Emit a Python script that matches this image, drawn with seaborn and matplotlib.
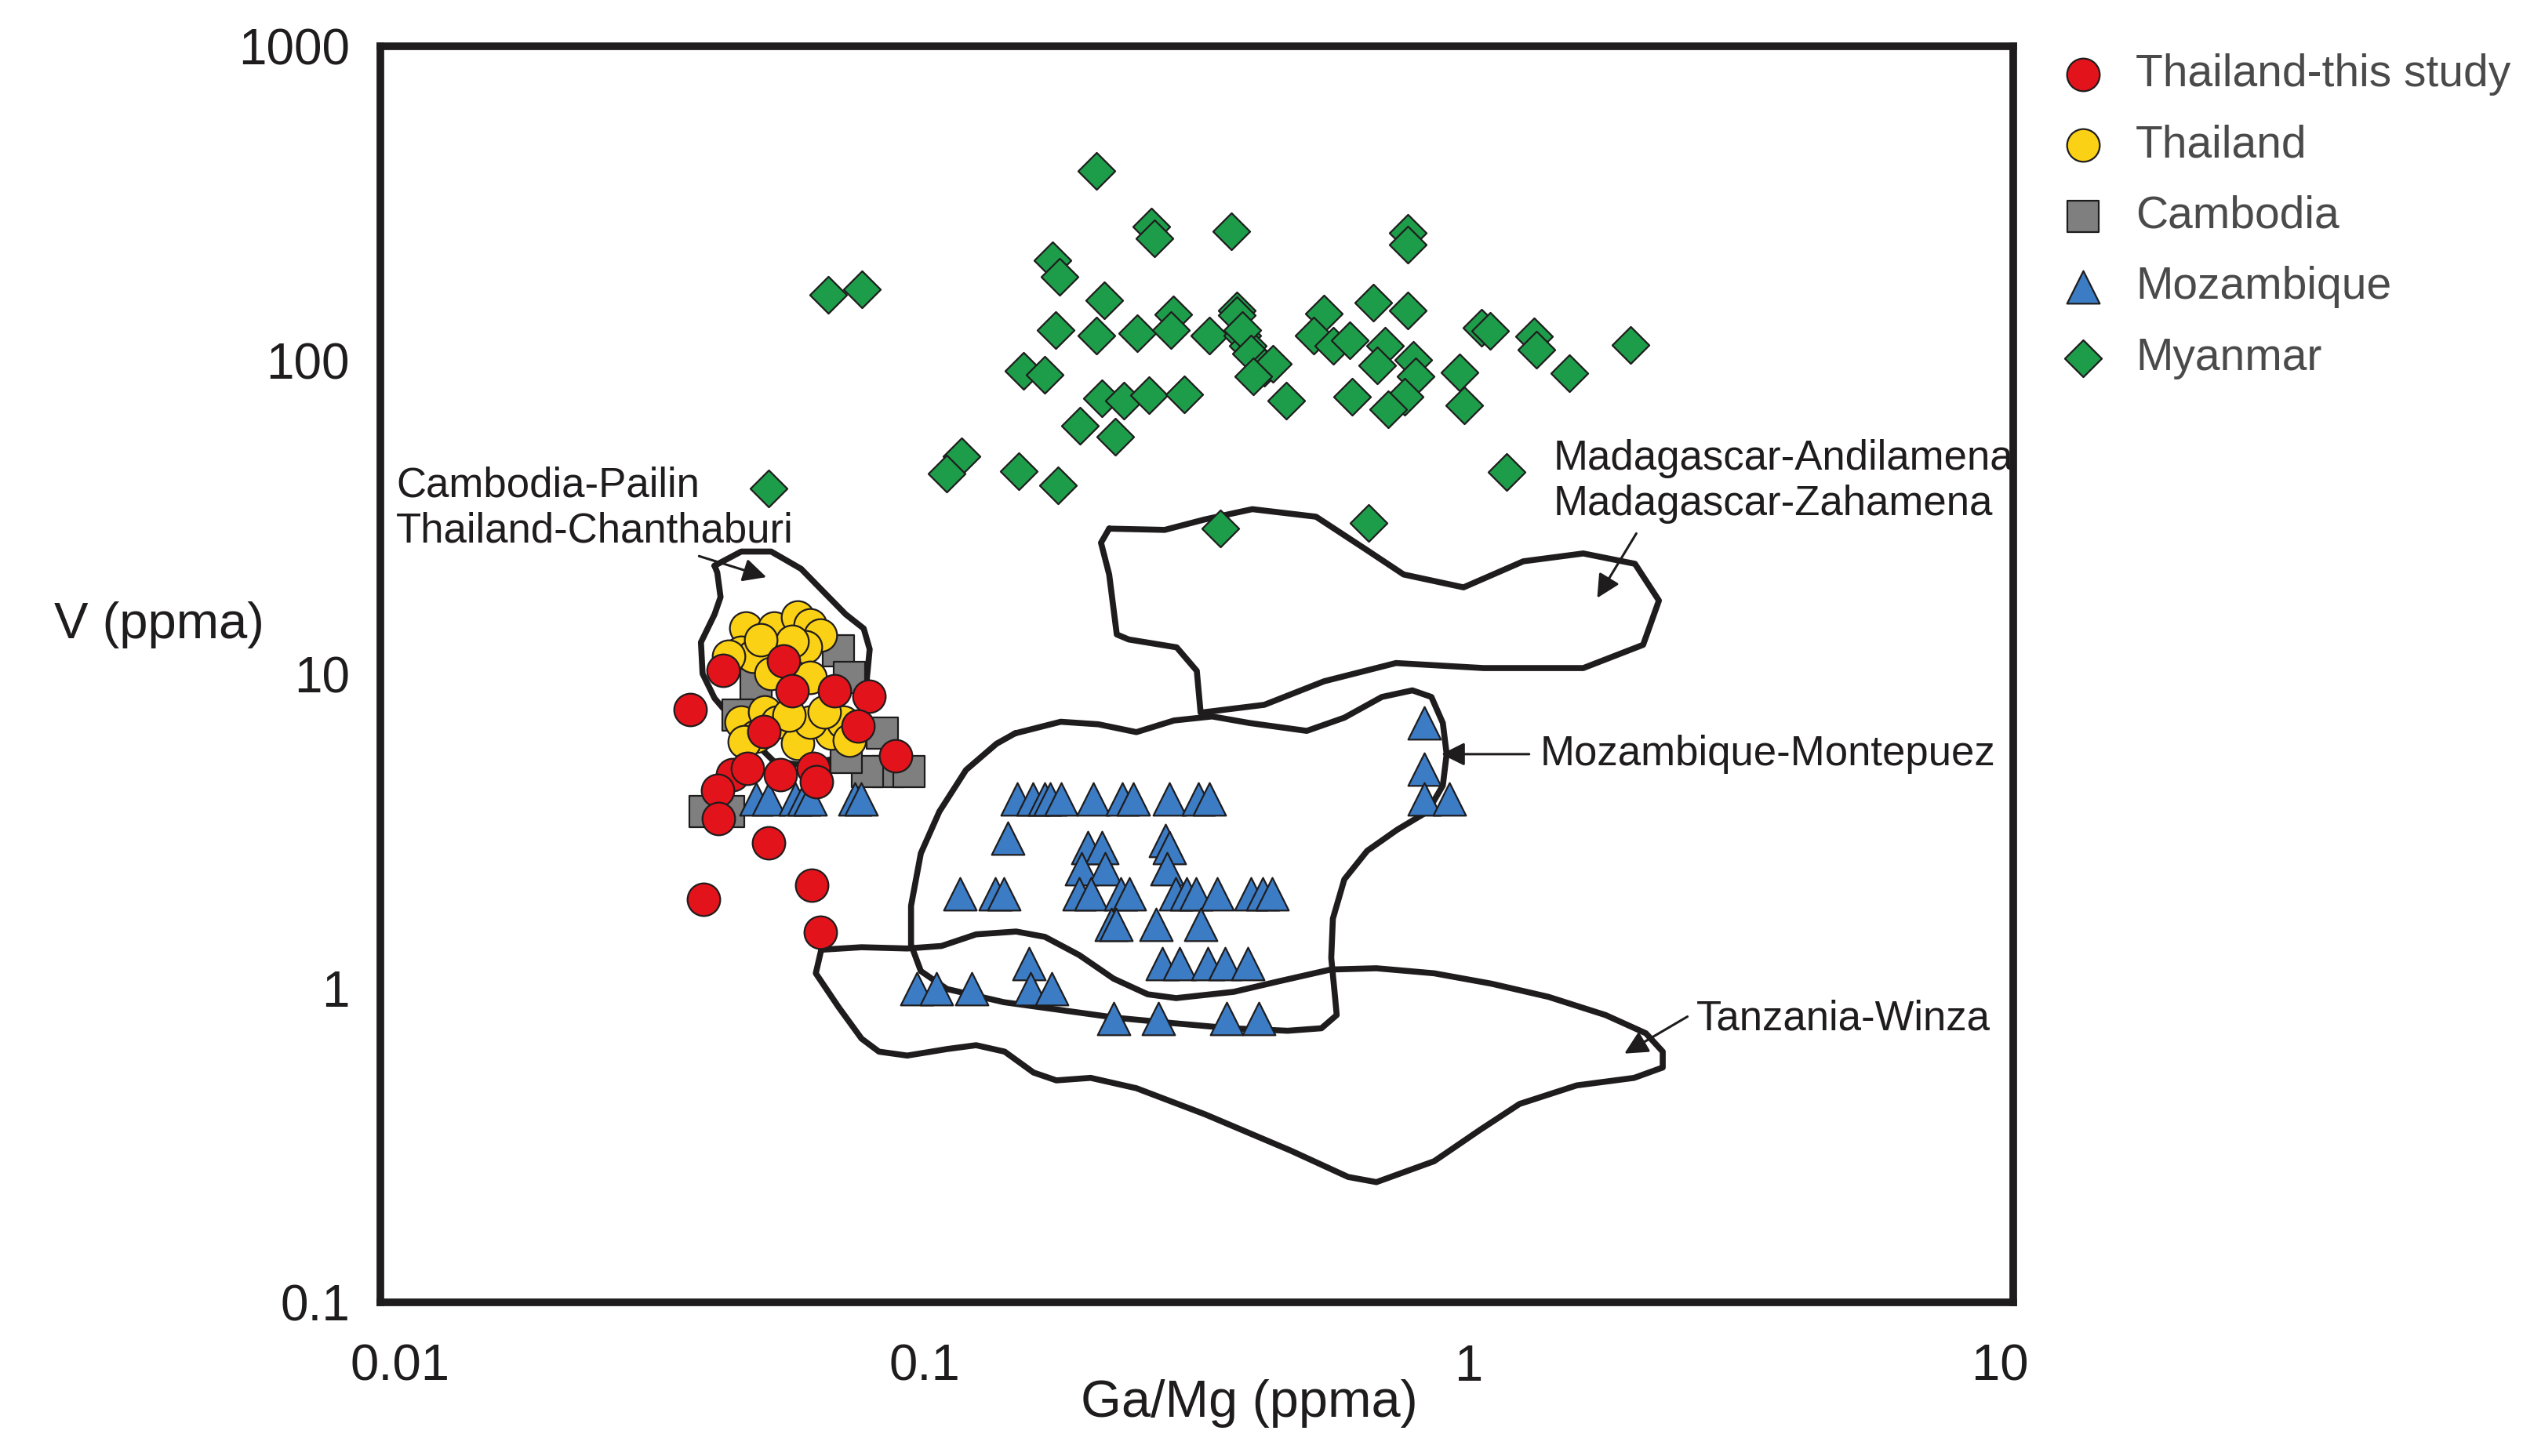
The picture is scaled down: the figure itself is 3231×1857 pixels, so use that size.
import numpy as np
import pandas as pd
import matplotlib
matplotlib.use('Agg')
import matplotlib.pyplot as plt
import matplotlib.transforms as mtransforms
from matplotlib.ticker import NullLocator
import seaborn as sns

# ---- points: Ga/Mg (ppma) vs V (ppma) ----
red_x = [0.0426, 0.0550, 0.0571, 0.0682, 0.0789, 0.0371, 0.0506, 0.0755, 0.0885, 0.0443,
         0.0472, 0.0543, 0.0624, 0.0632, 0.0416, 0.0418, 0.0516, 0.0620, 0.0393, 0.0644]
red_y = [10.3, 11.0, 8.85, 8.85, 8.52, 7.72, 6.59, 6.85, 5.51, 4.78,
         5.03, 4.78, 5.03, 4.54, 4.26, 3.47, 2.90, 2.13, 1.92, 1.51]

yellow_x = [0.0469, 0.0529, 0.0585, 0.0616, 0.0644, 0.0604, 0.0460, 0.0484, 0.0437, 0.0522,
            0.0616, 0.0571, 0.0500, 0.0460, 0.0509, 0.0536, 0.0490, 0.0585, 0.0673, 0.0708,
            0.0727, 0.0616, 0.0466, 0.0564, 0.0655]
yellow_y = [14.05, 14.05, 15.2, 14.4, 13.35, 12.2, 11.75, 11.4, 11.4, 10.06,
            9.8, 12.7, 12.9, 7.03, 7.59, 7.03, 6.34, 6.02, 6.51, 7.03,
            6.18, 7.03, 6.10, 7.40, 7.6]

cambodia_x = [0.0695, 0.0727, 0.0490, 0.0835, 0.0857, 0.0937, 0.0395, 0.0437, 0.0454, 0.0784, 0.0718]
cambodia_y = [11.9, 9.8, 9.32, 6.51, 4.90, 4.90, 3.65, 3.65, 7.40, 4.90, 5.44]

mozambique_x = [0.0490, 0.0516, 0.0578, 0.0600, 0.0616, 0.0745, 0.0764,
                0.148, 0.158, 0.166, 0.170, 0.178, 0.204, 0.231, 0.242, 0.282, 0.318, 0.334,
                0.142, 0.1995, 0.212, 0.277, 0.282, 0.194, 0.2145, 0.279,
                0.116, 0.135, 0.140, 0.192, 0.202, 0.229, 0.238, 0.289, 0.303, 0.3155,
                0.345, 0.398, 0.418, 0.435,
                0.220, 0.225, 0.266, 0.322,
                0.273, 0.2935, 0.331, 0.356, 0.392,
                0.0968, 0.105, 0.122, 0.1555, 0.1567, 0.171,
                0.2226, 0.2687, 0.359, 0.411,
                0.828, 0.828, 0.828, 0.920]
mozambique_y = [4.0, 4.0, 4.0, 4.0, 4.0, 4.0, 4.0,
                4.0, 4.0, 4.0, 4.0, 4.0, 4.0, 4.0, 4.0, 4.0, 4.0, 4.0,
                3.0, 2.8, 2.8, 2.95, 2.8, 2.4, 2.4, 2.4,
                2.0, 2.0, 2.0, 2.0, 2.0, 2.0, 2.0, 2.0, 2.0, 2.0,
                2.0, 2.0, 2.0, 2.0,
                1.6, 1.6, 1.6, 1.6,
                1.2, 1.2, 1.2, 1.2, 1.2,
                1.0, 1.0, 1.0, 1.2, 1.0, 1.0,
                0.8, 0.8, 0.8, 0.8,
                7.0, 5.0, 4.0, 4.0]

myanmar_x = [0.0516, 0.0665, 0.0767, 0.207, 0.261, 0.264, 0.366, 0.771, 0.771,
             0.172, 0.177, 0.214, 0.286, 0.375, 0.375, 0.541, 0.667, 0.771, 1.055, 1.093,
             1.316, 1.332, 1.531, 1.978, 0.174, 0.207, 0.246, 0.283, 0.333, 0.383,
             0.392, 0.383, 0.397, 0.421, 0.436, 0.402, 0.519, 0.563, 0.604, 0.702,
             0.678, 0.789, 0.798, 0.762, 0.710, 0.610, 0.962, 0.979, 0.462, 0.152,
             0.166, 0.212, 0.2325, 0.258, 0.300, 0.193, 0.224, 0.117, 0.1096, 0.149,
             0.176, 1.171, 0.349, 0.655]
myanmar_y = [39, 162, 168, 400, 267, 244, 257, 254, 234,
             208, 184, 155, 140, 144, 139, 141, 153, 144, 127, 124,
             119, 108, 91, 112, 125, 120, 122, 125, 120, 120,
             111, 125, 105, 94.6, 97.5, 89, 120, 111, 116, 111,
             96.5, 100.5, 89, 76.5, 69.9, 76.5, 91.7, 72, 74.3, 92.7,
             89.9, 75.7, 74.3, 77.3, 78.1, 61.9, 57.1, 49.6, 43.5, 44.4,
             40.1, 44, 29.1, 30.3]

# ---- field outlines, as log10(Ga/Mg) and log10(V) ----
pailin_log_x = [-1.386, -1.337, -1.282, -1.227, -1.183, -1.145, -1.112, -1.101, -1.106, -1.112, -1.117,
                -1.156, -1.227, -1.277, -1.310, -1.353, -1.386, -1.408, -1.411, -1.386, -1.375, -1.381]
pailin_log_y = [1.346, 1.391, 1.391, 1.336, 1.258, 1.191, 1.146, 1.080, 0.990, 0.879, 0.790,
                0.734, 0.712, 0.723, 0.779, 0.857, 0.924, 1.002, 1.102, 1.191, 1.246, 1.324]

madagascar_log_x = [-0.661, -0.559, -0.486, -0.398, -0.281, -0.193, -0.120, -0.010, 0.100, 0.210, 0.305,
                    0.349, 0.320, 0.210, 0.027, -0.134, -0.266, -0.376, -0.493, -0.500, -0.537,
                    -0.625, -0.647, -0.661, -0.676]
madagascar_log_y = [1.464, 1.460, 1.493, 1.526, 1.502, 1.402, 1.318, 1.277, 1.360, 1.385, 1.352,
                    1.235, 1.094, 1.020, 1.020, 1.036, 0.978, 0.903, 0.878, 1.011, 1.086,
                    1.111, 1.127, 1.318, 1.419]

montepuez_log_x = [-0.834, -0.750, -0.681, -0.611, -0.542, -0.472, -0.403, -0.298, -0.229, -0.160,
                   -0.104, -0.069, -0.048, -0.041, -0.048, -0.076, -0.132, -0.187, -0.229, -0.250,
                   -0.253, -0.246, -0.243, -0.271, -0.333, -0.4375, -0.542, -0.646, -0.750, -0.8545,
                   -0.959, -1.007, -1.025, -1.025, -1.007, -0.973, -0.924, -0.868]
montepuez_log_y = [0.812, 0.849, 0.841, 0.816, 0.853, 0.866, 0.845, 0.820, 0.862, 0.928,
                   0.949, 0.928, 0.845, 0.746, 0.646, 0.563, 0.505, 0.438, 0.347, 0.222,
                   0.097, -0.028, -0.085, -0.127, -0.135, -0.127, -0.111, -0.094, -0.069, -0.044,
                   -0.002, 0.055, 0.139, 0.263, 0.430, 0.563, 0.6955, 0.779]

winza_log_x = [-1.190, -1.116, -1.032, -0.969, -0.9055, -0.832, -0.779, -0.716, -0.653, -0.590, -0.538,
               -0.432, -0.348, -0.254, -0.170, -0.064, 0.041, 0.146, 0.251, 0.325, 0.356, 0.356,
               0.3035, 0.198, 0.093, 0.020, -0.064, -0.170, -0.222, -0.327, -0.485, -0.611, -0.695,
               -0.758, -0.800, -0.853, -0.9055, -0.958, -1.032, -1.084, -1.116, -1.158, -1.200]
winza_log_y = [0.123, 0.131, 0.127, 0.135, 0.172, 0.181, 0.164, 0.106, 0.031, -0.019, -0.031,
               -0.011, 0.023, 0.060, 0.064, 0.048, 0.015, -0.027, -0.085, -0.143, -0.2015, -0.252,
               -0.285, -0.309, -0.368, -0.451, -0.5505, -0.617, -0.6005, -0.517, -0.401, -0.318, -0.285,
               -0.293, -0.268, -0.2015, -0.181, -0.193, -0.214, -0.2015, -0.160, -0.060, 0.048]

x_ticks = [0.01, 0.1, 1, 10]
x_tick_labels = ['0.01', '0.1', '1', '10']
y_ticks = [0.1, 1, 10, 100, 1000]
y_tick_labels = ['0.1', '1', '10', '100', '1000']

sns.set_style('white')
plt.rcParams['font.family'] = ['Liberation Sans', 'DejaVu Sans']
ink = '#1f1c1d'

fig = plt.figure(figsize=(32.31, 18.57), dpi=100)
ax = fig.add_axes([0.1501, 0.1055, 0.6444, 0.8627])

# draw order: grey, yellow, blue, green, red on top
groups = [
    ('Cambodia', cambodia_x, cambodia_y, 's', '#7f7f80', 29, 3),
    ('Thailand', yellow_x, yellow_y, 'o', '#fbd115', 30, 4),
    ('Mozambique', mozambique_x, mozambique_y, '^', '#3b7cc4', 30, 5),
    ('Myanmar', myanmar_x, myanmar_y, 'D', '#1d9d4a', 24, 5),
    ('Thailand-this study', red_x, red_y, 'o', '#e3131b', 30, 6),
]
handles = {}
for name, xs, ys, mk, col, size, z in groups:
    df = pd.DataFrame({'ga_mg': xs, 'v': ys})
    sns.scatterplot(data=df, x='ga_mg', y='v', marker=mk, color=col, s=size ** 2,
                    edgecolor=ink, linewidth=1.6, zorder=z, ax=ax, legend=False)
    handles[name] = ax.collections[-1]

# field outlines
for lx, ly in [(pailin_log_x, pailin_log_y), (madagascar_log_x, madagascar_log_y),
               (montepuez_log_x, montepuez_log_y), (winza_log_x, winza_log_y)]:
    xs = 10 ** np.array(lx + lx[:1])
    ys = 10 ** np.array(ly + ly[:1])
    ax.plot(xs, ys, color=ink, lw=5.5, solid_joinstyle='round', solid_capstyle='round', zorder=2)

ax.set_xscale('log')
ax.set_yscale('log')
ax.set_xlim(0.01, 10)
ax.set_ylim(0.1, 1000)
ax.set_xticks(x_ticks)
ax.set_xticklabels(x_tick_labels)
ax.set_yticks(y_ticks)
ax.set_yticklabels(y_tick_labels)
ax.xaxis.set_minor_locator(NullLocator())
ax.yaxis.set_minor_locator(NullLocator())
ax.set(xlabel='', ylabel='')

ax.tick_params(axis='both', which='major', direction='out', length=20, width=2.2,
               color=ink, labelcolor=ink)
ax.tick_params(axis='x', labelsize=47, pad=18)
ax.tick_params(axis='y', labelsize=46, pad=8)
for t in (ax.xaxis.get_major_ticks()[0], ax.xaxis.get_major_ticks()[-1],
          ax.yaxis.get_major_ticks()[0], ax.yaxis.get_major_ticks()[-1]):
    t.tick1line.set_visible(False)
for lab, dx in zip(ax.get_xticklabels(), [0.25, 0, 0, -0.17]):
    lab.set_transform(lab.get_transform() + mtransforms.ScaledTranslation(dx, 0, fig.dpi_scale_trans))

for sp in ax.spines.values():
    sp.set_linewidth(7)
    sp.set_color(ink)
    sp.set_zorder(10)

# labels for the fields, with arrows
arrow_kw = dict(arrowstyle='-|>', color=ink, lw=2.2, mutation_scale=45, shrinkA=0, shrinkB=0)
ax.annotate('', xy=(0.0512, 20.4), xytext=(0.0385, 23.8), arrowprops=arrow_kw, zorder=7)
ax.annotate('', xy=(1.72, 17.5), xytext=(2.03, 28.1), arrowprops=arrow_kw, zorder=7)
ax.annotate('', xy=(0.89, 5.57), xytext=(1.29, 5.57), arrowprops=arrow_kw, zorder=7)
ax.annotate('', xy=(1.93, 0.62), xytext=(2.52, 0.813), arrowprops=arrow_kw, zorder=7)

txt_kw = dict(fontsize=38, color=ink, ha='left', va='center', linespacing=1.2, zorder=8)
ax.text(0.01069, 33.7, 'Cambodia-Pailin\nThailand-Chanthaburi', **txt_kw)
ax.text(1.43, 41.1, 'Madagascar-Andilamena\nMadagascar-Zahamena', **txt_kw)
ax.text(1.35, 5.57, 'Mozambique-Montepuez', **txt_kw)
ax.text(2.62, 0.80, 'Tanzania-Winza', **txt_kw)

fig.text(0.0628, 0.5708, 'V (ppma)', fontsize=47, color=ink, ha='center', va='center')
fig.text(0.493, 0.036, 'Ga/Mg (ppma)', fontsize=48, color=ink, ha='center', va='center')

order = ['Thailand-this study', 'Thailand', 'Cambodia', 'Mozambique', 'Myanmar']
fig.legend([handles[k] for k in order], order, loc='upper left',
           bbox_to_anchor=(0.8146, 0.9634), frameon=False, fontsize=41,
           handlelength=0.85, handletextpad=0.75, labelspacing=0.64,
           borderpad=0, borderaxespad=0, labelcolor='#4a4a4a', scatterpoints=1)

fig.savefig('out.png', dpi=100)
